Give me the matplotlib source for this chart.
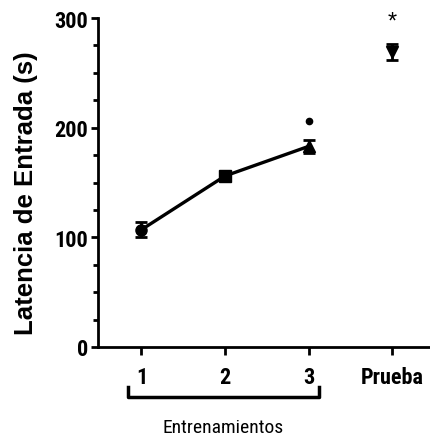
import matplotlib
matplotlib.use("Agg")
import matplotlib.pyplot as plt
from matplotlib.lines import Line2D

NARROW = ["Roboto Condensed", "PT Sans Narrow", "Liberation Sans", "DejaVu Sans"]

# Data
categories = ["1", "2", "3", "Prueba"]
train_x = [1, 2, 3]
train_mean = [107, 156, 183]
train_err = [7, 4, 6]
test_x = [4]
test_mean = [269]
test_err = [7]
markers = ["o", "s", "^"]
outlier_x = [3]
outlier_y = [206]
star_y = 297

fig = plt.figure(figsize=(4.30, 4.39), dpi=100)
ax = fig.add_axes([98/430, 91/439, 332/430, 329/439])

ax.plot(train_x, train_mean, color="black", lw=2.4, zorder=2)
for x, m, e, mk in zip(train_x, train_mean, train_err, markers):
    ax.errorbar([x], [m], yerr=[e], fmt=mk, color="black", ms=8, capsize=4,
                elinewidth=2, capthick=2, zorder=3)
ax.errorbar(test_x, test_mean, yerr=test_err, fmt="v", color="black", ms=8,
            capsize=4, elinewidth=2, capthick=2, zorder=3)
ax.plot(outlier_x, outlier_y, "o", color="black", ms=4.5)
ax.text(4, star_y, "*", ha="center", va="center", fontsize=17,
        fontfamily="Liberation Sans")

ax.set_xlim(0.48, 4.45)
ax.set_ylim(0, 300)
ax.spines["top"].set_visible(False)
ax.spines["right"].set_visible(False)
ax.spines["left"].set_linewidth(2)
ax.spines["bottom"].set_linewidth(2)
ax.set_yticks([0, 100, 200, 300])
ax.set_yticks(range(0, 301, 25), minor=True)
ax.set_xticks([1, 2, 3, 4])
ax.set_xticklabels(categories)
ax.tick_params(axis="both", which="major", length=5, width=2, labelsize=16, pad=2)
ax.tick_params(axis="y", which="minor", length=3.5, width=2)
ax.tick_params(axis="x", which="major", length=6, pad=8)
for lab in ax.get_xticklabels() + ax.get_yticklabels():
    lab.set_fontfamily(NARROW)
    lab.set_fontweight("bold")

ax.set_ylabel("Latencia de Entrada (s)", fontsize=18.5, fontweight="bold",
              fontfamily="Liberation Sans")
ax.yaxis.set_label_coords(-0.18, 0.47)

# Bracket under training ticks
bx0, bx1 = 128/430, 319/430
by, bt = 1 - 398/439, 1 - 388/439
fig.add_artist(Line2D([bx0, bx0, bx1, bx1], [bt, by, by, bt],
                      transform=fig.transFigure, color="black", lw=2.5))
fig.text((bx0 + bx1) / 2, 1 - 428/439, "Entrenamientos", ha="center", va="center",
         fontsize=14, fontfamily=NARROW)

fig.savefig("out.png", dpi=100)
